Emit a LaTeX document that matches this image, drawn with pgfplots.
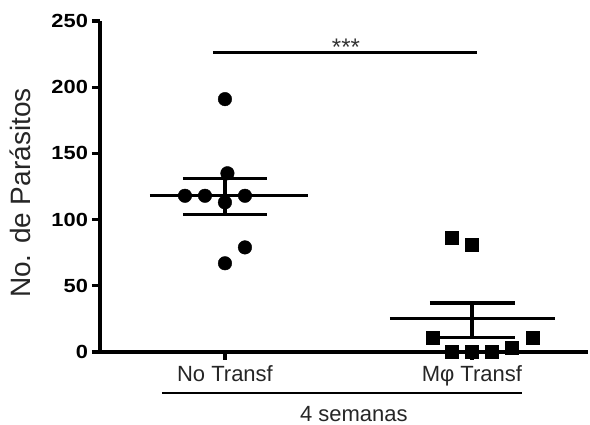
\documentclass[border=0pt]{standalone}
\usepackage{pgfplots}
\pgfplotsset{compat=1.18}
\usepackage{fontspec}
\setmainfont{Liberation Sans}
\begin{document}
\begin{tikzpicture}
\useasboundingbox (-100pt,-73pt) rectangle (490pt,352pt);
\begin{axis}[
  scale only axis, width=488pt, height=331pt,
  xmin=0.494, xmax=2.47, ymin=0, ymax=250,
  axis x line*=bottom, axis y line*=left,
  axis line style={line width=3.2pt, black},
  xtick={1,2}, xticklabels={No Transf, Mφ Transf},
  ytick={0,50,...,250},
  tick align=outside, major tick length=8pt,
  tick style={line width=3.2pt, black},
  /pgf/number format/assume math mode=true,
  yticklabel style={font=\bfseries\fontsize{19}{19}\selectfont, xscale=1.15, text=black},
  xticklabel style={font=\fontsize{22}{22}\selectfont, text=black!85, yshift=-2pt},
  ylabel={No. de Parásitos},
  ylabel style={font=\fontsize{28}{28}\selectfont, text=black!85, at={(axis description cs:-0.164,0.48)}, anchor=center},
  clip=false,
]
% No Transf
\addplot[only marks, mark=*, mark size=6.8pt, black] coordinates {
  (1.0,191) (1.01,135) (0.838,118) (0.919,118) (1.0,113) (1.081,118) (1.081,79) (1.0,67)
};
% Mphi Transf
\addplot[only marks, mark=square*, mark size=6.5pt, black] coordinates {
  (1.919,86) (2.0,81) (1.842,10.5) (2.247,11) (1.919,0) (2.0,0) (2.081,0) (2.162,3)
};
% means and SEM
\addplot[line width=3.2pt, black] coordinates {(0.696,118) (1.336,118)};
\addplot[line width=3.2pt, black] coordinates {(0.83,131) (1.17,131)};
\addplot[line width=3.2pt, black] coordinates {(0.83,104) (1.17,104)};
\addplot[line width=3.2pt, black] coordinates {(1,104) (1,131)};
\addplot[line width=3.2pt, black] coordinates {(1.668,25) (2.336,25)};
\addplot[line width=3.2pt, black] coordinates {(1.83,37) (2.174,37)};
\addplot[line width=3.2pt, black] coordinates {(1.83,11) (2.174,11)};
\addplot[line width=3.2pt, black] coordinates {(2,11) (2,37)};
% significance bar
\addplot[line width=2.8pt, black] coordinates {(0.951,226) (2.02,226)};
\node[anchor=base, font=\fontsize{24}{24}\selectfont, text=black!80] at (axis cs:1.49,224) {***};
% group bar
\addplot[line width=2.8pt, black] coordinates {(0.745,-31) (2.202,-31)};
\node[anchor=center, font=\fontsize{22}{22}\selectfont, text=black!85] at (axis cs:1.522,-47) {4 semanas};
\end{axis}
\end{tikzpicture}
\end{document}
